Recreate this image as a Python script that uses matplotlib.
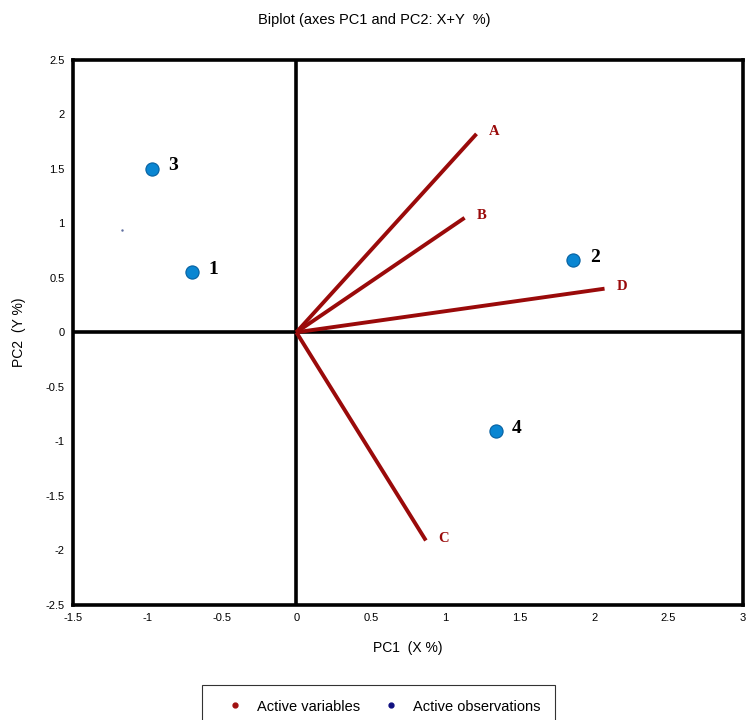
import numpy as np
import matplotlib
matplotlib.use('Agg')
import matplotlib.pyplot as plt
from matplotlib.lines import Line2D

# observations (blue points)
obs_names = ['1', '2', '3', '4']
obs_x = [-0.70, 1.86, -0.97, 1.34]
obs_y = [0.55, 0.66, 1.50, -0.91]

# variables (red vectors)
var_names = ['A', 'B', 'C', 'D']
var_x = [1.21, 1.13, 0.87, 2.07]
var_y = [1.82, 1.05, -1.91, 0.40]

xticks = [-1.5, -1, -0.5, 0, 0.5, 1, 1.5, 2, 2.5, 3]
yticks = [-2.5, -2, -1.5, -1, -0.5, 0, 0.5, 1, 1.5, 2, 2.5]

plt.rcParams['font.family'] = ['Liberation Sans', 'DejaVu Sans']
fig = plt.figure(figsize=(7.49, 7.2), dpi=100)
ax = fig.add_axes([0.0975, 0.160, 0.8945, 0.757])

red = '#9a0a0a'
blue = '#0a86d2'

ax.axhline(0, color='black', lw=2.6, zorder=1)
ax.axvline(0, color='black', lw=2.6, zorder=1)

for n, x, y in zip(var_names, var_x, var_y):
    ax.plot([0, x], [0, y], color=red, lw=2.8, solid_capstyle='butt', zorder=2)
    ax.text(x + 0.08, y + 0.02, n, color=red, family='Liberation Serif',
            fontweight='bold', fontsize=10.5, va='center', ha='left')

ax.scatter(obs_x, obs_y, s=90, color=blue, edgecolor='#0660a0', lw=0.8, zorder=3)
for n, x, y in zip(obs_names, obs_x, obs_y):
    ax.text(x + 0.11, y + 0.03, n, color='black', family='Liberation Serif',
            fontweight='bold', fontsize=14, va='center', ha='left')

# stray tiny dot
ax.plot([-1.17], [0.94], marker='.', ms=1.5, color='#6070a0')

ax.set_xlim(-1.5, 3)
ax.set_ylim(-2.5, 2.5)
ax.set_xticks(xticks)
ax.set_yticks(yticks)
ax.set_xticklabels([('%g' % t) for t in xticks], fontsize=8)
ax.set_yticklabels([('%g' % t) for t in yticks], fontsize=8)
ax.tick_params(length=0, pad=6)
for s in ax.spines.values():
    s.set_linewidth(2.6)

ax.set_xlabel('PC1  (X %)', fontsize=10, labelpad=13)
ax.set_ylabel('PC2  (Y %)', fontsize=10, labelpad=14)
fig.suptitle('Biplot (axes PC1 and PC2: X+Y  %)', fontsize=10.5, y=0.982)

handles = [Line2D([], [], ls='none', marker='o', ms=3.5, color='#a01010'),
           Line2D([], [], ls='none', marker='o', ms=3.5, color='#101080')]
leg = fig.legend(handles, ['Active variables', 'Active observations'], ncol=2,
                 loc='upper center', bbox_to_anchor=(0.505, 1 - 685 / 720), fontsize=10.5,
                 frameon=True, fancybox=False, edgecolor='black', handletextpad=0.2,
                 handlelength=2.6, columnspacing=0.8, borderpad=1.0, borderaxespad=0)
leg.get_frame().set_linewidth(0.8)

fig.savefig('out.png', dpi=100)
